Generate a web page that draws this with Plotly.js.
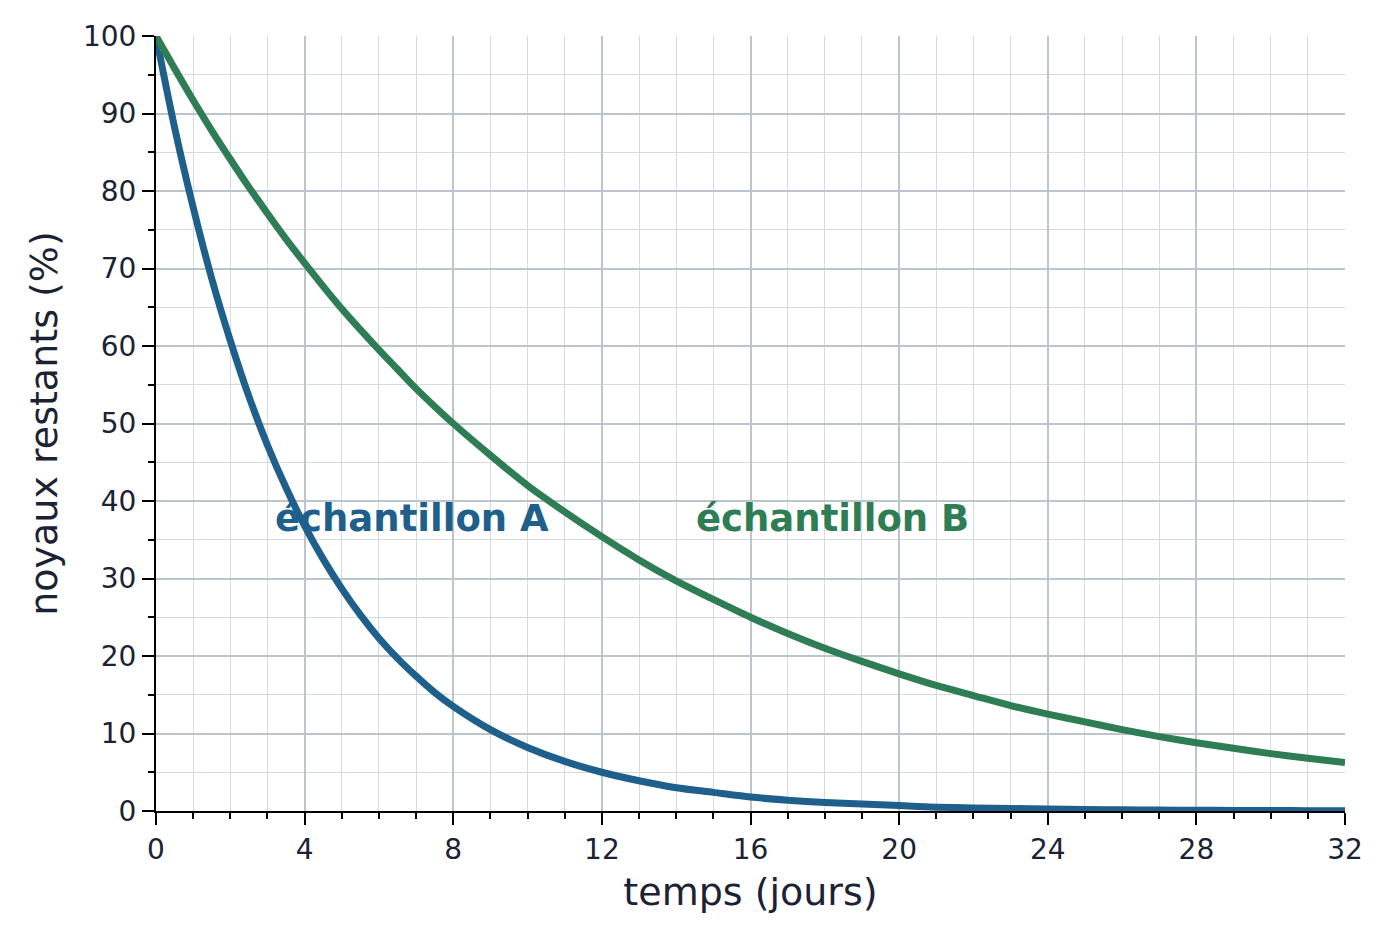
<!DOCTYPE html>
<html>
<head>
<meta charset="utf-8">
<script src="https://cdn.plot.ly/plotly-3.0.1.min.js"></script>
<style>
  html, body { margin: 0; padding: 0; background: #ffffff; }
  #chart { width: 1389px; height: 940px; }
</style>
</head>
<body>
<div id="chart"></div>
<script>
// temps (jours) et noyaux restants (%)
const days = [0, 0.5, 1, 1.5, 2, 2.5, 3, 3.5, 4, 4.5, 5, 5.5, 6, 6.5, 7, 7.5, 8, 9, 10, 11, 12, 13, 14, 15, 16,
              17, 18, 19, 20, 21, 22, 23, 24, 25, 26, 27, 28, 29, 30, 31, 32];
const sampleA = [100, 88.2, 77.9, 68.7, 60.7, 53.5, 47.2, 41.7, 36.8, 32.5, 28.7, 25.3, 22.3, 19.7, 17.4, 15.3,
                 13.5, 10.5, 8.2, 6.4, 5.0, 3.9, 3.0, 2.4, 1.8,
                 1.4, 1.1, 0.9, 0.7, 0.5, 0.4, 0.32, 0.25, 0.2, 0.15, 0.12, 0.1, 0.07, 0.06, 0.04, 0.03];
const sampleB = [100, 95.8, 91.7, 87.8, 84.1, 80.5, 77.1, 73.8, 70.7, 67.7, 64.8, 62.1, 59.5, 57.0, 54.5, 52.2,
                 50, 45.9, 42.0, 38.6, 35.4, 32.4, 29.7, 27.3, 25,
                 22.9, 21.0, 19.3, 17.7, 16.2, 14.9, 13.6, 12.5, 11.5, 10.5, 9.6, 8.8, 8.1, 7.4, 6.8, 6.25];

const labelNames = ['échantillon A', 'échantillon B'];
const labelX = [6.9, 18.2];
const labelY = [37.7, 37.7];

const blue = '#1e5f8c';
const green = '#2e7d54';
const ink = '#1a2233';

const traces = [
  {
    x: days, y: sampleA, mode: 'lines', name: labelNames[0],
    line: { color: blue, width: 7, shape: 'spline', smoothing: 0.8 },
    hoverinfo: 'x+y'
  },
  {
    x: days, y: sampleB, mode: 'lines', name: labelNames[1],
    line: { color: green, width: 7, shape: 'spline', smoothing: 0.8 },
    hoverinfo: 'x+y'
  }
];

function axis(range, dtick, minorDtick, title) {
  return {
    range: range,
    dtick: dtick,
    tick0: 0,
    showline: true,
    linecolor: '#000000',
    linewidth: 2,
    ticks: 'outside',
    ticklen: 12,
    tickwidth: 2,
    tickcolor: '#000000',
    tickfont: { family: 'DejaVu Sans', size: 28, color: ink },
    showgrid: true,
    gridcolor: '#bcc4ce',
    gridwidth: 2,
    zeroline: false,
    automargin: true,
    minor: {
      dtick: minorDtick,
      tick0: 0,
      ticks: 'outside',
      ticklen: 6,
      tickwidth: 2,
      tickcolor: '#000000',
      showgrid: true,
      gridcolor: '#d6dbe3',
      gridwidth: 1
    },
    title: { text: title, standoff: 14, font: { family: 'DejaVu Sans', size: 38, color: ink } },
    fixedrange: true
  };
}

const layout = {
  width: 1389,
  height: 940,
  margin: { l: 156, r: 44, t: 36, b: 129 },
  paper_bgcolor: '#ffffff',
  plot_bgcolor: '#ffffff',
  showlegend: false,
  xaxis: axis([0, 32], 4, 1, 'temps (jours)'),
  yaxis: axis([0, 100], 10, 5, 'noyaux restants (%)'),
  annotations: labelNames.map((t, i) => ({
    x: labelX[i], y: labelY[i], xref: 'x', yref: 'y',
    text: '<b>' + t + '</b>',
    showarrow: false,
    font: { family: 'DejaVu Sans', size: 37, color: i === 0 ? blue : green }
  }))
};

Plotly.newPlot('chart', traces, layout, { displayModeBar: false, staticPlot: true });
</script>
</body>
</html>
